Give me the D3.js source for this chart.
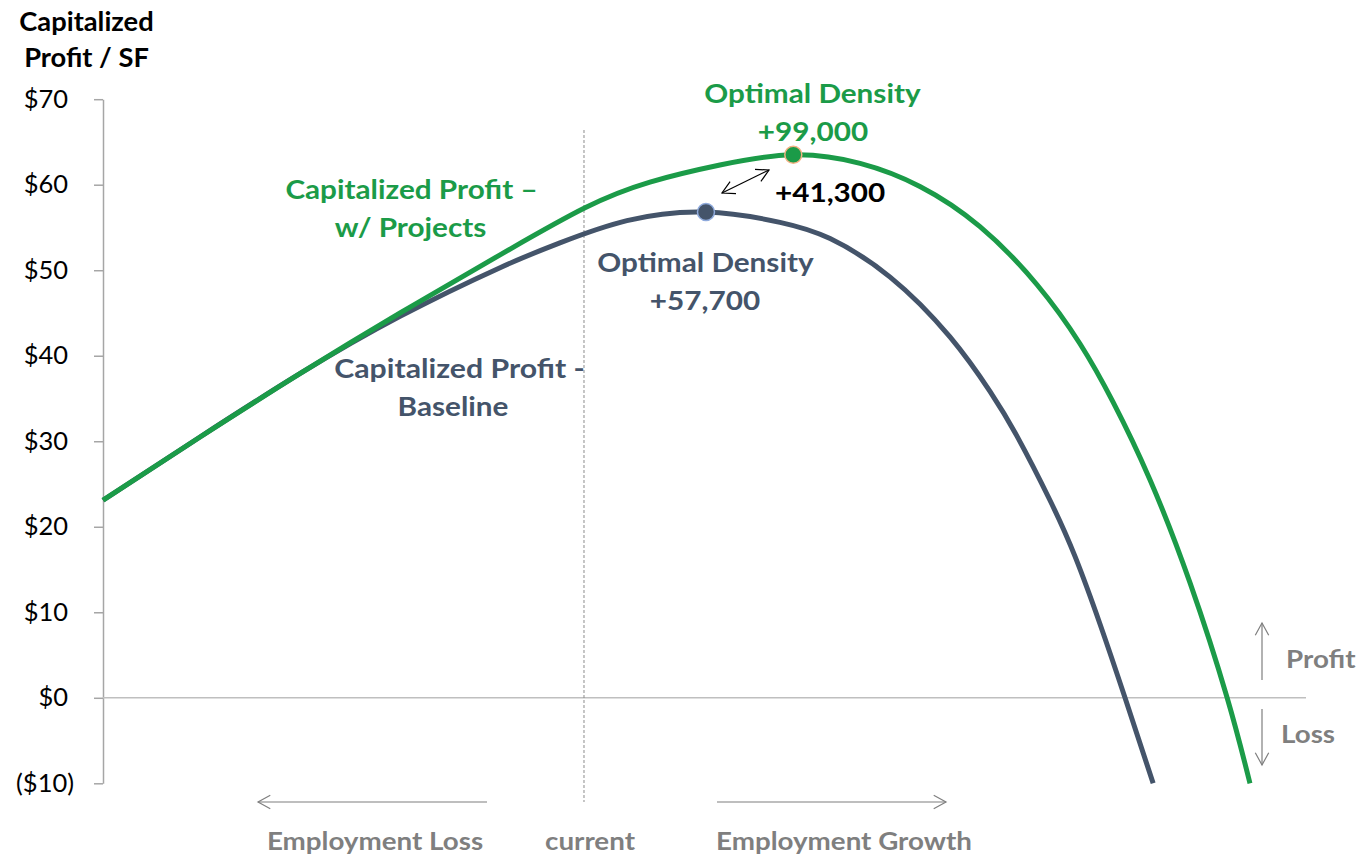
<!DOCTYPE html>
<html><head><meta charset="utf-8">
<script src="https://cdn.jsdelivr.net/npm/d3@7"></script>
<style>body{margin:0;background:#fff}svg{display:block}text{font-family:Lato,"Open Sans",sans-serif}</style>
</head><body><svg id="c" width="1360" height="856"></svg>
<script>
// Employment change (thousands of jobs vs current) and capitalized profit per SF ($)
const baselineX = [-227.5,-181.6,-134.4,-87.0,-39.7,-11.4,20.3,57.7,92.7,116.4,144.8,173.1,192.1,204.8,220.4,232.3,244.1,255.9,269.2];
const baselineY = [23.1,30.5,37.9,44.6,50.3,53.2,55.8,56.8,55.6,53.7,49.2,42.2,35.8,30.6,23.1,16.5,8.6,0,-10];
const projectsX = [-227.5,-181.6,-134.4,-87.0,-39.7,0.5,31.2,64.3,99.0,130.6,158.9,187.3,214.3,234.6,250.2,267.7,286.7,304.2,315.0];
const projectsY = [23.1,30.5,37.9,45.0,51.8,57.3,60.3,62.3,63.5,62.5,59.8,55.1,48.3,41.4,34.6,25.5,13.4,0,-10];
const yTicks = [-10,0,10,20,30,40,50,60,70];
const optimum = [{name:"baseline", x:57.7, y:56.8}, {name:"projects", x:99.0, y:63.5}];

const svg = d3.select("#c");
const x = d3.scaleLinear().domain([-227.5,341.5]).range([103,1306]);
const y = d3.scaleLinear().domain([-10,70]).range([783.3,99.2]);
const GREEN = "#1B9B48", NAVY = "#44546A", GRAY = "#7F7F7F";

function txt(t, cx, by, size, sx, color, weight, anchor) {
  return svg.append("text").attr("transform", `translate(${cx},${by}) scale(${sx},1)`)
    .attr("text-anchor", anchor || "middle").attr("font-size", size).attr("font-weight", weight)
    .attr("fill", color).text(t);
}

// y axis
const yAxis = d3.axisLeft(y).tickValues(yTicks).tickSize(9).tickSizeOuter(0).tickFormat(() => "");
const ga = svg.append("g").attr("transform", `translate(${x.range()[0]},0)`).call(yAxis);
ga.select(".domain").attr("stroke", "#A6A6A6").attr("stroke-width", 1.5);
ga.selectAll(".tick line").attr("stroke", "#A6A6A6").attr("stroke-width", 1.5);
yTicks.forEach(d => txt(d < 0 ? "($" + Math.abs(d) + ")" : "$" + d, d < 0 ? 74 : 68, y(d) + 8.5, 24.5, 1.04, "#000", 400, "end"));

// zero line
svg.append("line").attr("x1", x.range()[0]).attr("x2", x.range()[1]).attr("y1", y(0)).attr("y2", y(0))
  .attr("stroke", "#BFBFBF").attr("stroke-width", 1.5);

// current dashed line
svg.append("line").attr("x1", x(0)).attr("x2", x(0)).attr("y1", 130).attr("y2", 802)
  .attr("stroke", "#8C8C8C").attr("stroke-width", 1).attr("stroke-dasharray", "3,2");

// title
txt("Capitalized", 86.5, 31, 26, 1.05, "#000", 700);
txt("Profit / SF", 86.5, 67, 26, 1.05, "#000", 700);

// curves
const line = d3.line().x(d => x(d[0])).y(d => y(d[1])).curve(d3.curveNatural);
svg.append("path").datum(baselineX.map((v,i) => [v, baselineY[i]])).attr("d", line)
  .attr("fill", "none").attr("stroke", NAVY).attr("stroke-width", 5);
svg.append("path").datum(projectsX.map((v,i) => [v, projectsY[i]])).attr("d", line)
  .attr("fill", "none").attr("stroke", GREEN).attr("stroke-width", 5);

// optimum markers
svg.selectAll("circle.opt").data(optimum).join("circle").attr("class", "opt")
  .attr("cx", d => x(d.x)).attr("cy", d => y(d.y)).attr("r", 8.5)
  .attr("fill", d => d.name === "baseline" ? NAVY : GREEN)
  .attr("stroke", d => d.name === "baseline" ? "#8FAADC" : "#F4B183").attr("stroke-width", 1.5);

// labels
txt("Optimal Density", 812.5, 103, 27, 1.1, GREEN, 700);
txt("+99,000", 813, 141, 27, 1.1, GREEN, 700);
txt("Optimal Density", 705.5, 272, 27, 1.1, NAVY, 700);
txt("+57,700", 705, 310, 27, 1.1, NAVY, 700);
txt("Capitalized Profit \u2013", 411.5, 199, 27, 1.1, GREEN, 700);
txt("w/ Projects", 410.5, 237, 27, 1.1, GREEN, 700);
txt("Capitalized Profit -", 459.5, 378, 27, 1.12, NAVY, 700);
txt("Baseline", 453, 416, 27, 1.1, NAVY, 700);
txt("+41,300", 775, 202, 27, 1.1, "#000", 700, "start");

// arrows
function arrow(x1, y1, x2, y2, color, both) {
  const g = svg.append("g").attr("stroke", color).attr("stroke-width", 1.2).attr("fill", "none");
  g.append("line").attr("x1", x1).attr("y1", y1).attr("x2", x2).attr("y2", y2);
  const head = (px, py, qx, qy) => {
    const a = Math.atan2(py - qy, px - qx), L = 14, s = 0.5;
    g.append("path").attr("d", `M${px - L*Math.cos(a - s)},${py - L*Math.sin(a - s)}L${px},${py}L${px - L*Math.cos(a + s)},${py - L*Math.sin(a + s)}`);
  };
  head(x2, y2, x1, y1);
  if (both) head(x1, y1, x2, y2);
}
arrow(722, 193, 769, 170, "#000", true);
arrow(487, 802, 258, 802, GRAY, false);
arrow(717, 802, 946, 802, GRAY, false);
arrow(1262, 680, 1262, 623, GRAY, false);
arrow(1262, 709, 1262, 765, GRAY, false);

// gray labels
txt("Employment Loss", 375, 850, 25, 1.11, GRAY, 700);
txt("current", 590, 850, 25, 1.11, GRAY, 700);
txt("Employment Growth", 844, 850, 25, 1.11, GRAY, 700);
txt("Profit", 1286, 668, 25, 1.11, GRAY, 700, "start");
txt("Loss", 1281, 743, 25, 1.11, GRAY, 700, "start");
</script></body></html>
